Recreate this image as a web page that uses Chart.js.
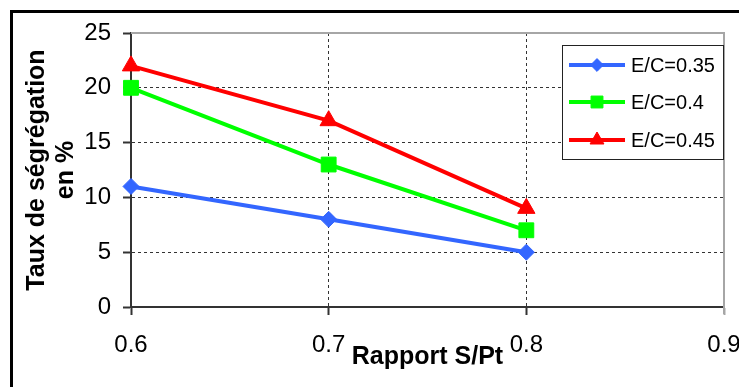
<!DOCTYPE html>
<html>
<head>
<meta charset="utf-8">
<script src="https://cdn.jsdelivr.net/npm/chart.js@4/dist/chart.umd.min.js"></script>
<style>
  html, body { margin: 0; padding: 0; background: #fff; }
  canvas { display: block; }
</style>
</head>
<body>
<canvas id="chart" width="739" height="387"></canvas>
<script>
const ratios = [0.6, 0.7, 0.8];
const ec035 = [11, 8, 5];
const ec040 = [20, 13, 7];
const ec045 = [22, 17, 9];
const seriesLabels = ['E/C=0.35', 'E/C=0.4', 'E/C=0.45'];
const xTitle = 'Rapport S/Pt';
const yTitle = ['Taux de ségrégation', 'en %'];

const FONT = '"Liberation Sans", Arial, sans-serif';

const toPoints = (ys) => ys.map((y, i) => ({ x: ratios[i], y }));

const makeSet = (label, values, color, style, radius) => ({
    label,
    data: toPoints(values),
    borderColor: color,
    backgroundColor: color,
    borderWidth: 4,
    pointStyle: style,
    pointRadius: radius,
    pointBorderWidth: 1,
    pointBorderColor: color,
    pointBackgroundColor: color,
    tension: 0,
    clip: false,
});

// frame + plot border, and the boxed legend on the right
const decorations = {
    id: 'decorations',
    afterDatasetsDraw(chart) {
        const { ctx, chartArea } = chart;
        ctx.save();
        ctx.strokeStyle = '#a6a6a6';
        ctx.lineWidth = 2;
        ctx.beginPath();
        ctx.moveTo(chartArea.left, chartArea.top);
        ctx.lineTo(chartArea.right, chartArea.top);
        ctx.lineTo(chartArea.right, chartArea.bottom + 7);
        ctx.stroke();
        ctx.restore();
    },
    afterDraw(chart) {
        const { ctx } = chart;
        ctx.save();
        ctx.strokeStyle = '#000';
        ctx.lineWidth = 3;
        ctx.beginPath();
        ctx.moveTo(11.5, 387);
        ctx.lineTo(11.5, 11.5);
        ctx.lineTo(739, 11.5);
        ctx.stroke();

        // legend box
        const bx = 562, by = 45, bw = 161, bh = 114;
        ctx.fillStyle = '#fff';
        ctx.fillRect(bx, by, bw, bh);
        ctx.strokeStyle = '#222';
        ctx.lineWidth = 1;
        ctx.strokeRect(bx + 0.5, by + 0.5, bw, bh);

        const rows = [65, 102, 140];
        chart.data.datasets.forEach((ds, i) => {
            const y = rows[i];
            ctx.strokeStyle = ds.borderColor;
            ctx.lineWidth = 4;
            ctx.beginPath();
            ctx.moveTo(569, y);
            ctx.lineTo(625, y);
            ctx.stroke();
            ctx.fillStyle = ds.pointBackgroundColor;
            ctx.strokeStyle = ds.pointBorderColor;
            ctx.lineWidth = 1;
            Chart.helpers.drawPoint(ctx, {
                pointStyle: ds.pointStyle,
                radius: ds.pointRadius * 0.8,
                rotation: 0,
                borderWidth: 1,
            }, 597, y);
            ctx.fillStyle = '#000';
            ctx.font = '20px ' + FONT;
            ctx.textAlign = 'left';
            ctx.textBaseline = 'middle';
            ctx.fillText(ds.label, 631, y + 1);
        });
        ctx.restore();
    },
};

new Chart(document.getElementById('chart'), {
    type: 'line',
    data: {
        datasets: [
            makeSet(seriesLabels[0], ec035, '#3366ff', 'rectRot', 8),
            makeSet(seriesLabels[1], ec040, '#00ff00', 'rect', 10.5),
            makeSet(seriesLabels[2], ec045, '#ff0000', 'triangle', 10),
        ],
    },
    options: {
        responsive: false,
        animation: false,
        devicePixelRatio: 1,
        layout: { padding: { top: 33, right: 15, left: 0, bottom: 0 } },
        plugins: {
            legend: { display: false },
            tooltip: { enabled: false },
        },
        scales: {
            x: {
                type: 'linear',
                min: 0.6,
                max: 0.9,
                afterBuildTicks: (scale) => {
                    scale.ticks = ratios.concat([0.9]).map((v) => ({ value: v }));
                },
                afterFit: (scale) => {
                    scale.height = 80;
                    scale.paddingLeft = 0;
                    scale.paddingRight = 0;
                },
                ticks: {
                    color: '#000',
                    font: { family: FONT, size: 24 },
                    padding: 16,
                    maxRotation: 0,
                    autoSkip: false,
                    callback: (v) => Number(v).toFixed(1),
                },
                grid: {
                    color: (ctx) => (ctx.tick && (ctx.tick.value === 0.7 || ctx.tick.value === 0.8)) ? '#333' : 'rgba(0,0,0,0)',
                    lineWidth: 1,
                    tickLength: 8,
                    tickColor: (ctx) => (ctx.tick && ctx.tick.value === 0.9) ? '#a6a6a6' : '#333',
                    tickWidth: 2,
                    tickBorderDash: [],
                },
                border: { display: true, color: '#333', width: 2, dash: [3, 3] },
                title: {
                    display: true,
                    text: xTitle,
                    color: '#000',
                    font: { family: FONT, size: 25, weight: 'bold' },
                    padding: { top: 0, bottom: 15 },
                },
            },
            y: {
                min: 0,
                max: 25,
                afterFit: (scale) => {
                    scale.width = 131;
                    scale.paddingTop = 0;
                    scale.paddingBottom = 0;
                },
                ticks: {
                    stepSize: 5,
                    color: '#000',
                    font: { family: FONT, size: 24 },
                    padding: 12,
                },
                grid: {
                    color: (ctx) => (ctx.tick && ctx.tick.value > 0 && ctx.tick.value < 25) ? '#333' : 'rgba(0,0,0,0)',
                    lineWidth: 1,
                    tickLength: 8,
                    tickColor: '#333',
                    tickWidth: 2,
                    tickBorderDash: [],
                },
                border: { display: true, color: '#333', width: 2, dash: [3, 3] },
                title: {
                    display: true,
                    text: yTitle,
                    color: '#000',
                    font: { family: FONT, size: 25, weight: 'bold', lineHeight: 1.18 },
                    padding: { top: 22, bottom: 0 },
                },
            },
        },
    },
    plugins: [decorations],
});
</script>
</body>
</html>
